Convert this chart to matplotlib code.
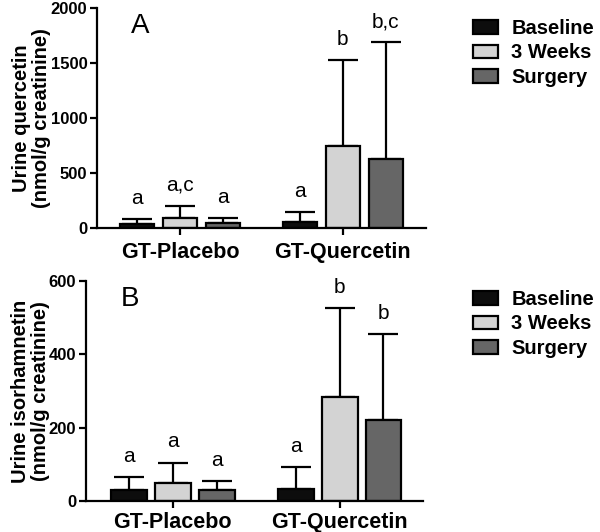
import matplotlib
matplotlib.use("Agg")
import matplotlib.pyplot as plt
from matplotlib.patches import Patch
import numpy as np

plt.rcParams['font.family'] = ['Liberation Sans', 'DejaVu Sans']

groups = ["GT-Placebo", "GT-Quercetin"]
series = ["Baseline", "3 Weeks", "Surgery"]
colors = ["#0d0d0d", "#d3d3d3", "#666666"]

# Panel A: urine quercetin (nmol/g creatinine)
a_mean = {"Baseline": [36, 57], "3 Weeks": [88, 745], "Surgery": [45, 627]}
a_err = {"Baseline": [46, 91], "3 Weeks": [115, 782], "Surgery": [43, 1061]}
a_letters = {"Baseline": ["a", "a"], "3 Weeks": ["a,c", "b"], "Surgery": ["a", "b,c"]}
a_ticks = [0, 500, 1000, 1500, 2000]

# Panel B: urine isorhamnetin (nmol/g creatinine)
b_mean = {"Baseline": [29, 32], "3 Weeks": [50, 284], "Surgery": [31, 222]}
b_err = {"Baseline": [36, 61], "3 Weeks": [55, 242], "Surgery": [24, 234]}
b_letters = {"Baseline": ["a", "a"], "3 Weeks": ["a", "b"], "Surgery": ["a", "b"]}
b_ticks = [0, 200, 400, 600]

fig = plt.figure(figsize=(6, 5.32), dpi=100)
axA = fig.add_axes([97/600, 1-228/532, 329/600, 220/532])
axB = fig.add_axes([86/600, 1-501/532, 337/600, 220/532])


def draw(ax, means, errs, letters, ticks, ylabel, panel, offset, width, xlim, labx, xpad):
    x = np.arange(len(groups))
    for i, s in enumerate(series):
        xs = x + (i - 1) * offset
        ax.bar(xs, means[s], width=width, color=colors[i], edgecolor="black",
               linewidth=1.6, zorder=2)
        ax.errorbar(xs, means[s], yerr=[np.zeros(len(groups)), errs[s]], fmt="none",
                    ecolor="black", elinewidth=1.6, capsize=11, capthick=1.6, zorder=1)
        for j in range(len(groups)):
            ax.annotate(letters[s][j], (xs[j], means[s][j] + errs[s][j]),
                        xytext=(0, 8), textcoords="offset points", ha="center",
                        va="bottom", fontsize=15)
    ax.set_xlim(*xlim)
    ax.set_ylim(ticks[0], ticks[-1])
    ax.set_yticks(ticks)
    ax.set_xticks(x)
    ax.set_xticklabels(groups, fontsize=15.5, fontweight="bold")
    for lab in ax.get_yticklabels():
        lab.set_fontweight("bold")
        lab.set_fontsize(12)
    ax.spines["top"].set_visible(False)
    ax.spines["right"].set_visible(False)
    ax.spines["left"].set_linewidth(1.6)
    ax.spines["bottom"].set_linewidth(1.6)
    ax.tick_params(axis="y", length=5, width=1.6, pad=2)
    ax.tick_params(axis="x", length=5, width=1.6, pad=xpad)
    ax.set_ylabel(ylabel, fontsize=14.5, fontweight="bold", linespacing=1.05)
    ax.yaxis.set_label_coords(labx, 0.5)
    ax.text(0.13, 0.92, panel, transform=ax.transAxes, fontsize=20,
            ha="center", va="center")


draw(axA, a_mean, a_err, a_letters, a_ticks, "Urine quercetin\n(nmol/g creatinine)",
     "A", 0.264, 0.21, (-0.51, 1.51), -0.14, 5)
draw(axB, b_mean, b_err, b_letters, b_ticks, "Urine isorhamnetin\n(nmol/g creatinine)",
     "B", 0.263, 0.215, (-0.52, 1.50), -0.108, 3)

handles = [Patch(facecolor=c, edgecolor="black", linewidth=1.6) for c in colors]
for ytop in (19, 290):
    fig.legend(handles, series, loc="upper left", bbox_to_anchor=(473/600, 1-ytop/532),
               frameon=False, borderpad=0, borderaxespad=0,
               handlelength=1.25, handleheight=0.65, handletextpad=0.65,
               labelspacing=0.27, prop={"weight": "bold", "size": 14.5})

fig.savefig("out.png", dpi=100)
